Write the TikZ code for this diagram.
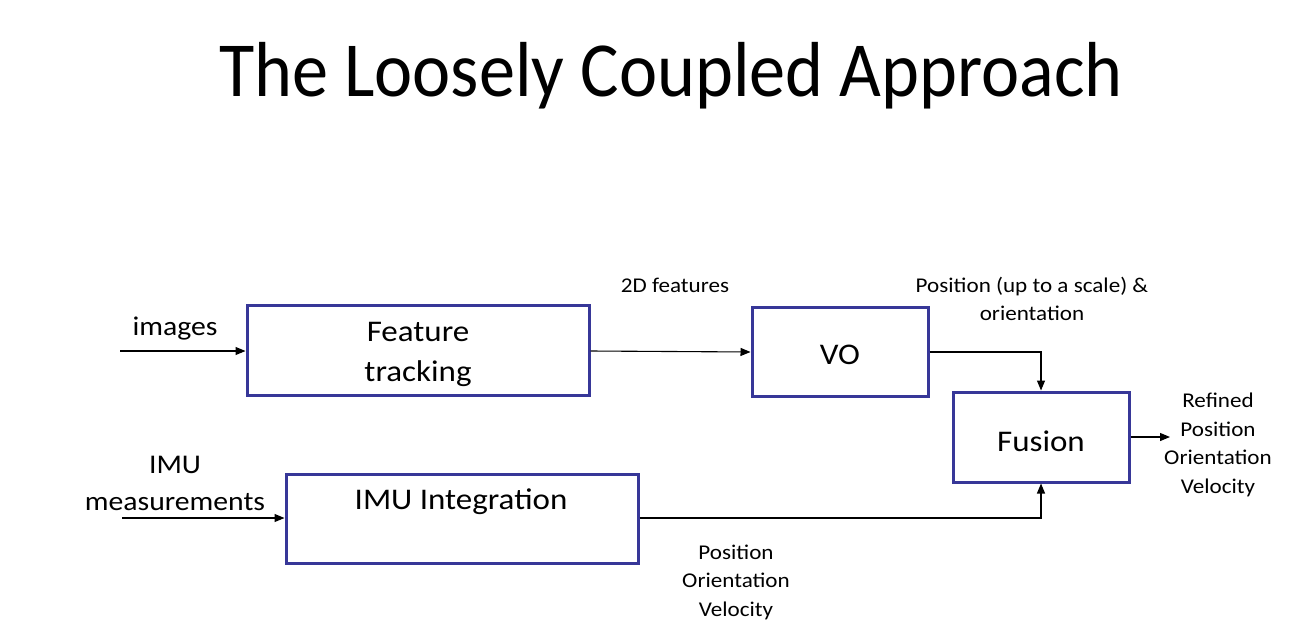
\documentclass[tikz,border=0pt]{standalone}
\usepackage{fontspec}
\setmainfont{Carlito}[FakeStretch=1.1]
\newfontfamily\titlefont{Carlito}[FakeStretch=0.926]
\usetikzlibrary{arrows.meta}
\definecolor{boxblue}{RGB}{55,55,152}
\tikzset{
  blk/.style={draw=boxblue, line width=3pt, inner sep=0pt},
  conn/.style={line width=1.1pt, -{Triangle[length=10pt,width=8pt]}},
  lbl/.style={align=center, font=\fontsize{21}{28.5}\selectfont, inner sep=0pt},
  inlbl/.style={align=center, font=\fontsize{27}{37}\selectfont, inner sep=0pt},
  boxtxt/.style={align=center, font=\fontsize{30}{40}\selectfont, inner sep=0pt}
}
\begin{document}
\begin{tikzpicture}[x=1pt,y=-1pt]
\useasboundingbox[fill=white] (0,0) rectangle (1300,640);
% title
\node[font=\titlefont\fontsize{78}{90}\selectfont, inner sep=0pt] (title) at (671,76) {The Loosely Coupled Approach};
% boxes
\node[blk, minimum width=342pt, minimum height=90pt] (ft) at (418,350.5) {};
\node[boxtxt] (fttxt) at (418,354) {Feature\\tracking};
\node[blk, minimum width=176pt, minimum height=89pt] (vo) at (840,351.5) {};
\node[boxtxt] (votxt) at (840,355) {VO};
\node[blk, minimum width=176pt, minimum height=90pt] (fu) at (1041,437) {};
\node[boxtxt] (futxt) at (1041,441) {Fusion};
\node[blk, minimum width=352pt, minimum height=89pt] (imu) at (462,518.5) {};
\node[boxtxt] (imutxt) at (461,502) {IMU Integration};
% free ends
\coordinate (imgin) at (120,351);
\coordinate (imuin) at (122,518);
\coordinate (fuout) at (1170,437);
% labels
\node[inlbl] (imglbl) at (175,329) {images};
\node[inlbl] (imulbl) at (175,483) {IMU\\measurements};
\node[lbl] (featlbl) at (675,285) {2D features};
\node[lbl] (vololbl) at (1032,299) {Position (up to a scale) \&\\orientation};
\node[lbl] (reflbl) at (1218,445) {Refined\\Position\\Orientation\\Velocity};
\node[lbl] (imuolbl) at (736,582) {Position\\Orientation\\Velocity};
% connectors
\draw[conn] (imgin) -- (ft.west |- imgin);
\draw[conn] (ft.east |- imgin) -- (vo.west |- 0,352);
\draw[conn] (vo.east |- 0,352) -| (fu.north);
\draw[conn] (imuin) -- (imu.west |- imuin);
\draw[conn] (imu.east |- imuin) -| (fu.south);
\draw[conn] (fu.east) -- (fuout);
\end{tikzpicture}
\end{document}
